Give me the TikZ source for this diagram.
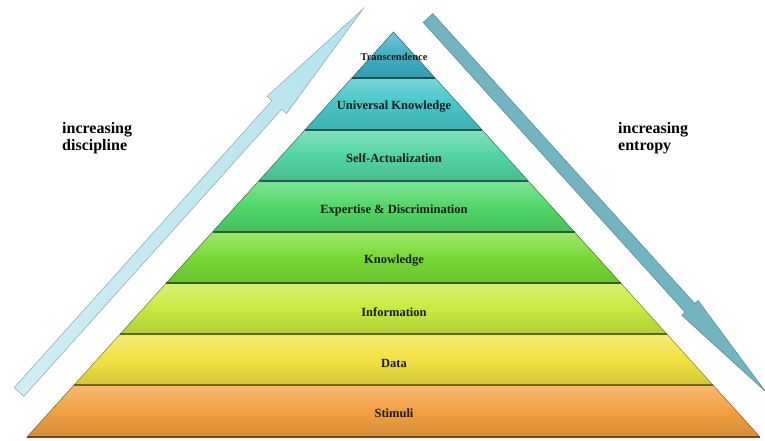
\documentclass[tikz,border=0pt]{standalone}
\usepackage{fontspec}
\setmainfont{Liberation Serif}
\usetikzlibrary{calc}

\definecolor{transc}{HTML}{3FAFC4}
\definecolor{univ}{HTML}{45C6C8}
\definecolor{selfact}{HTML}{52D4A2}
\definecolor{expert}{HTML}{50D86A}
\definecolor{knowl}{HTML}{78DA36}
\definecolor{inform}{HTML}{C8EA40}
\definecolor{datac}{HTML}{F2E242}
\definecolor{stim}{HTML}{F2A040}
\definecolor{disccol}{HTML}{B4E2EE}
\definecolor{entrcol}{HTML}{72B4C1}

\begin{document}
\begin{tikzpicture}[x=1pt,y=-1pt,
    tier/.style={draw=#1!55!black, line width=0.5pt, top color=#1!72!white, bottom color=#1!88!black, middle color=#1},
    seam/.style={draw=#1!45!black, line width=2.5pt},
    level/.style={font=\bfseries\fontsize{12.5}{14}\selectfont, text=black!90, inner sep=0pt},
    side/.style={font=\bfseries\fontsize{16}{17.5}\selectfont, align=left, inner sep=0pt, anchor=west}]

    \useasboundingbox (0,0) rectangle (765,440);

    % pyramid corners
    \coordinate (apex) at (393.5,32);
    \coordinate (l1) at (351.9,78);  \coordinate (r1) at (435.1,78);
    \coordinate (l2) at (304.8,130); \coordinate (r2) at (482.2,130);
    \coordinate (l3) at (258.7,181); \coordinate (r3) at (528.3,181);
    \coordinate (l4) at (212.5,232); \coordinate (r4) at (574.5,232);
    \coordinate (l5) at (166.3,283); \coordinate (r5) at (620.7,283);
    \coordinate (l6) at (120.2,334); \coordinate (r6) at (666.8,334);
    \coordinate (l7) at (74.1,385);  \coordinate (r7) at (712.9,385);
    \coordinate (l8) at (27,437);    \coordinate (r8) at (760,437);

    % tiers
    \shade[tier=transc] (apex) -- (r1) -- (l1) -- cycle;
    \shade[tier=univ] (l1) -- (r1) -- (r2) -- (l2) -- cycle;
    \shade[tier=selfact] (l2) -- (r2) -- (r3) -- (l3) -- cycle;
    \shade[tier=expert] (l3) -- (r3) -- (r4) -- (l4) -- cycle;
    \shade[tier=knowl] (l4) -- (r4) -- (r5) -- (l5) -- cycle;
    \shade[tier=inform] (l5) -- (r5) -- (r6) -- (l6) -- cycle;
    \shade[tier=datac] (l6) -- (r6) -- (r7) -- (l7) -- cycle;
    \shade[tier=stim] (l7) -- (r7) -- (r8) -- (l8) -- cycle;

    \draw[seam=transc] (l1) -- (r1);
    \draw[seam=univ] (l2) -- (r2);
    \draw[seam=selfact] (l3) -- (r3);
    \draw[seam=expert] (l4) -- (r4);
    \draw[seam=knowl] (l5) -- (r5);
    \draw[seam=inform] (l6) -- (r6);
    \draw[seam=datac] (l7) -- (r7);
    \draw[seam=stim] (l8) -- (r8);

    \node[level, font=\bfseries\fontsize{10.5}{12}\selectfont] (transcendence) at (394,57) {Transcendence};
    \node[level] (universal) at (394,107) {Universal Knowledge};
    \node[level] (selfactual) at (394,158) {Self-Actualization};
    \node[level] (expertise) at (394,210) {Expertise \& Discrimination};
    \node[level] (knowledge) at (394,261) {Knowledge};
    \node[level] (information) at (394,312) {Information};
    \node[level] (data) at (394,363) {Data};
    \node[level] (stimuli) at (394,413) {Stimuli};

    % block arrows
    \coordinate (discfoot) at (19,392);
    \coordinate (disctip) at (363,9);
    \coordinate (discneck) at ($(disctip)!129pt!(discfoot)$);
    \shade[draw=disccol!60!black!70, line width=0.6pt, left color=disccol!60!white, right color=disccol]
        ($(discfoot)!6.5pt!90:(disctip)$) -- ($(discneck)!6.5pt!90:(disctip)$)
        -- ($(discneck)!13pt!90:(disctip)$) -- (disctip)
        -- ($(discneck)!13pt!-90:(disctip)$) -- ($(discneck)!6.5pt!-90:(disctip)$)
        -- ($(discfoot)!6.5pt!-90:(disctip)$) -- cycle;

    \coordinate (entrfoot) at (428,18);
    \coordinate (entrtip) at (765,391);
    \coordinate (entrneck) at ($(entrtip)!112pt!(entrfoot)$);
    \fill[draw=entrcol!80!black, line width=0.6pt, fill=entrcol]
        ($(entrfoot)!6.5pt!90:(entrtip)$) -- ($(entrneck)!6.5pt!90:(entrtip)$)
        -- ($(entrneck)!11pt!90:(entrtip)$) -- (entrtip)
        -- ($(entrneck)!11pt!-90:(entrtip)$) -- ($(entrneck)!6.5pt!-90:(entrtip)$)
        -- ($(entrfoot)!6.5pt!-90:(entrtip)$) -- cycle;

    \node[side] (disclabel) at (62,138) {increasing\\discipline};
    \node[side] (entrlabel) at (618,138) {increasing\\entropy};

\end{tikzpicture}
\end{document}
